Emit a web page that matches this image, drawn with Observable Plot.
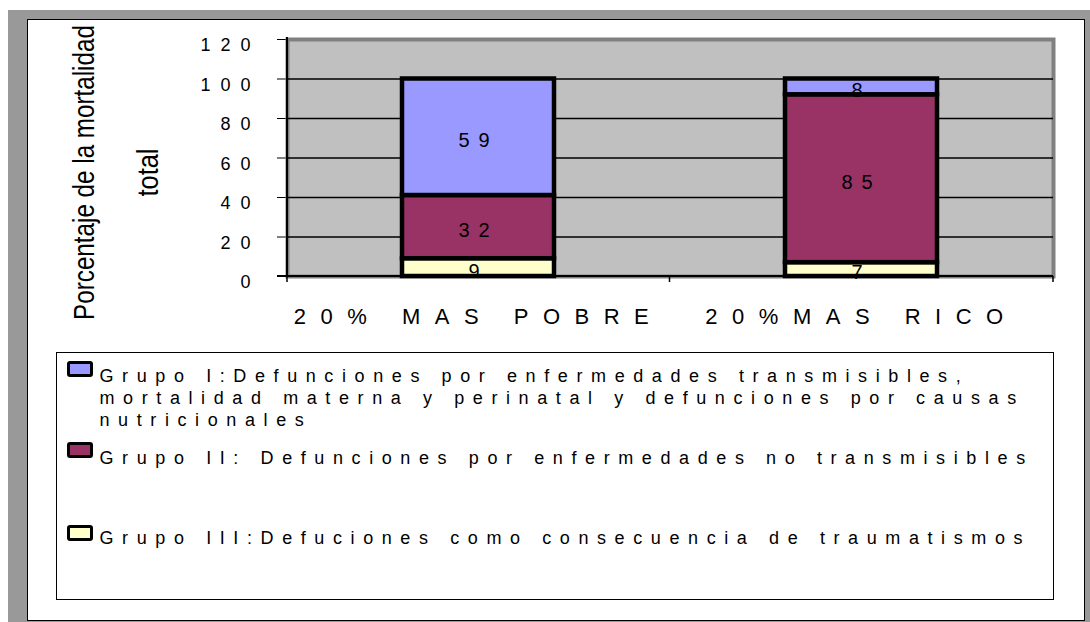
<!DOCTYPE html>
<html>
<head>
<meta charset="utf-8">
<script src="https://cdn.jsdelivr.net/npm/d3@7"></script>
<script src="https://cdn.jsdelivr.net/npm/@observablehq/plot@0.6"></script>
<style>
  body { margin: 0; width: 1090px; height: 622px; overflow: hidden; background: #fff;
         font-family: "Liberation Sans", Arial, sans-serif; }
  #outer { position: absolute; left: 8px; top: 10px; width: 1082px; height: 612px; background: #999999; }
  #inner { position: absolute; left: 27px; top: 19px; width: 1058px; height: 602px; box-sizing: border-box;
           border: 1px solid #000; background: #fff; }
  #chart { position: absolute; left: 0; top: 0; }
  #legend { position: absolute; left: 56px; top: 352px; width: 998px; height: 248px; box-sizing: border-box;
            border: 1.5px solid #000; background: #fff; }
  .sw { position: absolute; left: 9.5px; width: 26px; height: 16px; box-sizing: border-box;
        border: 3.5px solid #000; border-radius: 3px; }
  .lab { position: absolute; left: 42.5px; font-size: 18px; line-height: 22px; letter-spacing: 8.6px;
         white-space: nowrap; color: #000; }
</style>
</head>
<body>
<div id="outer"></div>
<div id="inner"></div>
<div id="chart"></div>
<div id="legend"></div>
<script>
// ---- data ----
const categories = ["20% MAS POBRE", "20%MAS RICO"];
const groups = ["Grupo I", "Grupo II", "Grupo III"];
const grupoI = [59, 8];
const grupoII = [32, 85];
const grupoIII = [9, 7];
const colors = ["#9999FF", "#993366", "#FFFFCC"];
const yTicks = [0, 20, 40, 60, 80, 100, 120];
const yTitle = ["Porcentaje de la mortalidad", "total"];
const legendLines = [
  ["Grupo I:Defunciones por enfermedades transmisibles,", "mortalidad materna y perinatal y defunciones por causas", "nutricionales"],
  ["Grupo II: Defunciones por enfermedades no transmisibles"],
  ["Grupo III:Defuciones como consecuencia de traumatismos"]
];

// ---- table ----
const seriesValues = [grupoI, grupoII, grupoIII];
const rows = [];
categories.forEach((cat, i) => {
  // bottom-up order: Grupo III, Grupo II, Grupo I
  [2, 1, 0].forEach(g => rows.push({cat, group: groups[g], value: seriesValues[g][i]}));
});
const stackOrder = [groups[2], groups[1], groups[0]];

// custom decoration: left axis line, bottom axis line, between-category ticks
function axisDecor(...args) {
  const scales = args.length >= 4 ? args[1] : args[0];
  const dims = args.length >= 4 ? args[3] : args[1];
  const {marginLeft, marginRight, marginTop, marginBottom, width, height} = dims;
  const x = scales.x;
  const bw = typeof x.bandwidth === "function" ? x.bandwidth() : 0;
  const x0 = marginLeft, x1 = width - marginRight, yb = height - marginBottom, yt = marginTop;
  const bounds = [x0];
  for (let i = 0; i < categories.length - 1; i++) {
    bounds.push((x(categories[i]) + x(categories[i + 1]) + bw) / 2);
  }
  bounds.push(x1);
  const g = d3.create("svg:g");
  g.append("line").attr("x1", x0).attr("x2", x0).attr("y1", yt - 2).attr("y2", yb)
    .attr("stroke", "#000").attr("stroke-width", 2);
  g.append("line").attr("x1", x0 - 10).attr("x2", x1).attr("y1", yb).attr("y2", yb)
    .attr("stroke", "#000").attr("stroke-width", 2);
  for (const b of bounds) {
    g.append("line").attr("x1", b).attr("x2", b).attr("y1", yb).attr("y2", yb + 6)
      .attr("stroke", "#000").attr("stroke-width", 1.5);
  }
  return g.node();
}

const titleFont = "'Liberation Sans', Arial, sans-serif";
const chart = Plot.plot({
  width: 1090,
  height: 340,
  marginLeft: 287,
  marginRight: 37,
  marginTop: 39,
  marginBottom: 64,
  style: {fontFamily: "'Liberation Sans', Arial, sans-serif", fontSize: "17px", background: "transparent", overflow: "visible", color: "#000"},
  x: {domain: categories, paddingInner: 0.603, paddingOuter: 0.3015, label: null, tickSize: 0, tickPadding: 32},
  y: {domain: [0, 120], ticks: yTicks, tickSize: 10, tickPadding: 17, label: null},
  color: {domain: groups, range: colors},
  marks: [
    Plot.frame({fill: "#C0C0C0", stroke: "#808080", strokeWidth: 4}),
    Plot.ruleY(yTicks.filter(t => t > 0 && t < 120), {stroke: "#000", strokeWidth: 1.5}),
    axisDecor,
    Plot.barY(rows, {x: "cat", y: "value", fill: "group", stroke: "#000", strokeWidth: 4.5, order: stackOrder}),
    Plot.text(rows, Plot.stackY({x: "cat", y: "value", z: "group", order: stackOrder,
      text: d => String(d.value), fill: "#000", fontSize: 20, dy: 3.5})),
    Plot.text([yTitle[0]], {text: d => d, frameAnchor: "left", textAnchor: "middle", rotate: -90, dx: 84 - 287, dy: 14.5,
      fontSize: 30, fill: "#000", fontFamily: titleFont}),
    Plot.text([yTitle[1]], {text: d => d, frameAnchor: "left", textAnchor: "middle", rotate: -90, dx: 148 - 287, dy: 14.5,
      fontSize: 30, fill: "#000", fontFamily: titleFont})
  ]
});
document.getElementById("chart").appendChild(chart);

// text styling tweaks (letter spacing / condensed title as in the original)
const svg = d3.select(chart);
svg.selectAll('[aria-label^="y-axis"] text').style("letter-spacing", "10px").style("font-size", "18px");
svg.selectAll('[aria-label="y-axis tick label"]').each(function () {
  const t = this.getAttribute("transform") || "";
  this.setAttribute("transform", t + " translate(0,6)");
});
svg.selectAll('[aria-label^="x-axis"] text').style("letter-spacing", "14.5px").style("font-size", "22px");
const textGroups = svg.selectAll('g[aria-label="text"]').nodes();
if (textGroups[0]) d3.select(textGroups[0]).selectAll("text").style("letter-spacing", "9px");
// condense the axis title horizontally (the original uses a narrow face)
const titleLengths = [295, 48];
[1, 2].forEach((k, j) => {
  if (textGroups[k]) d3.select(textGroups[k]).selectAll("text").each(function () {
    const natural = this.getComputedTextLength();
    const sx = natural > 0 ? titleLengths[j] / natural : 1;
    const t = this.getAttribute("transform") || "";
    this.setAttribute("transform", t + ` scale(${sx},1)`);
  });
});

// ---- legend ----
const legend = d3.select("#legend");
const swTops = [7.5, 88.5, 171.5];
const labTops = [12, 94, 174];
groups.forEach((g, i) => {
  legend.append("div").attr("class", "sw").style("top", swTops[i] + "px").style("background", colors[i]);
  const lab = legend.append("div").attr("class", "lab").style("top", labTops[i] + "px");
  legendLines[i].forEach((line, j) => {
    if (j) lab.append("br");
    lab.append("span").text(line);
  });
});
</script>
</body>
</html>
